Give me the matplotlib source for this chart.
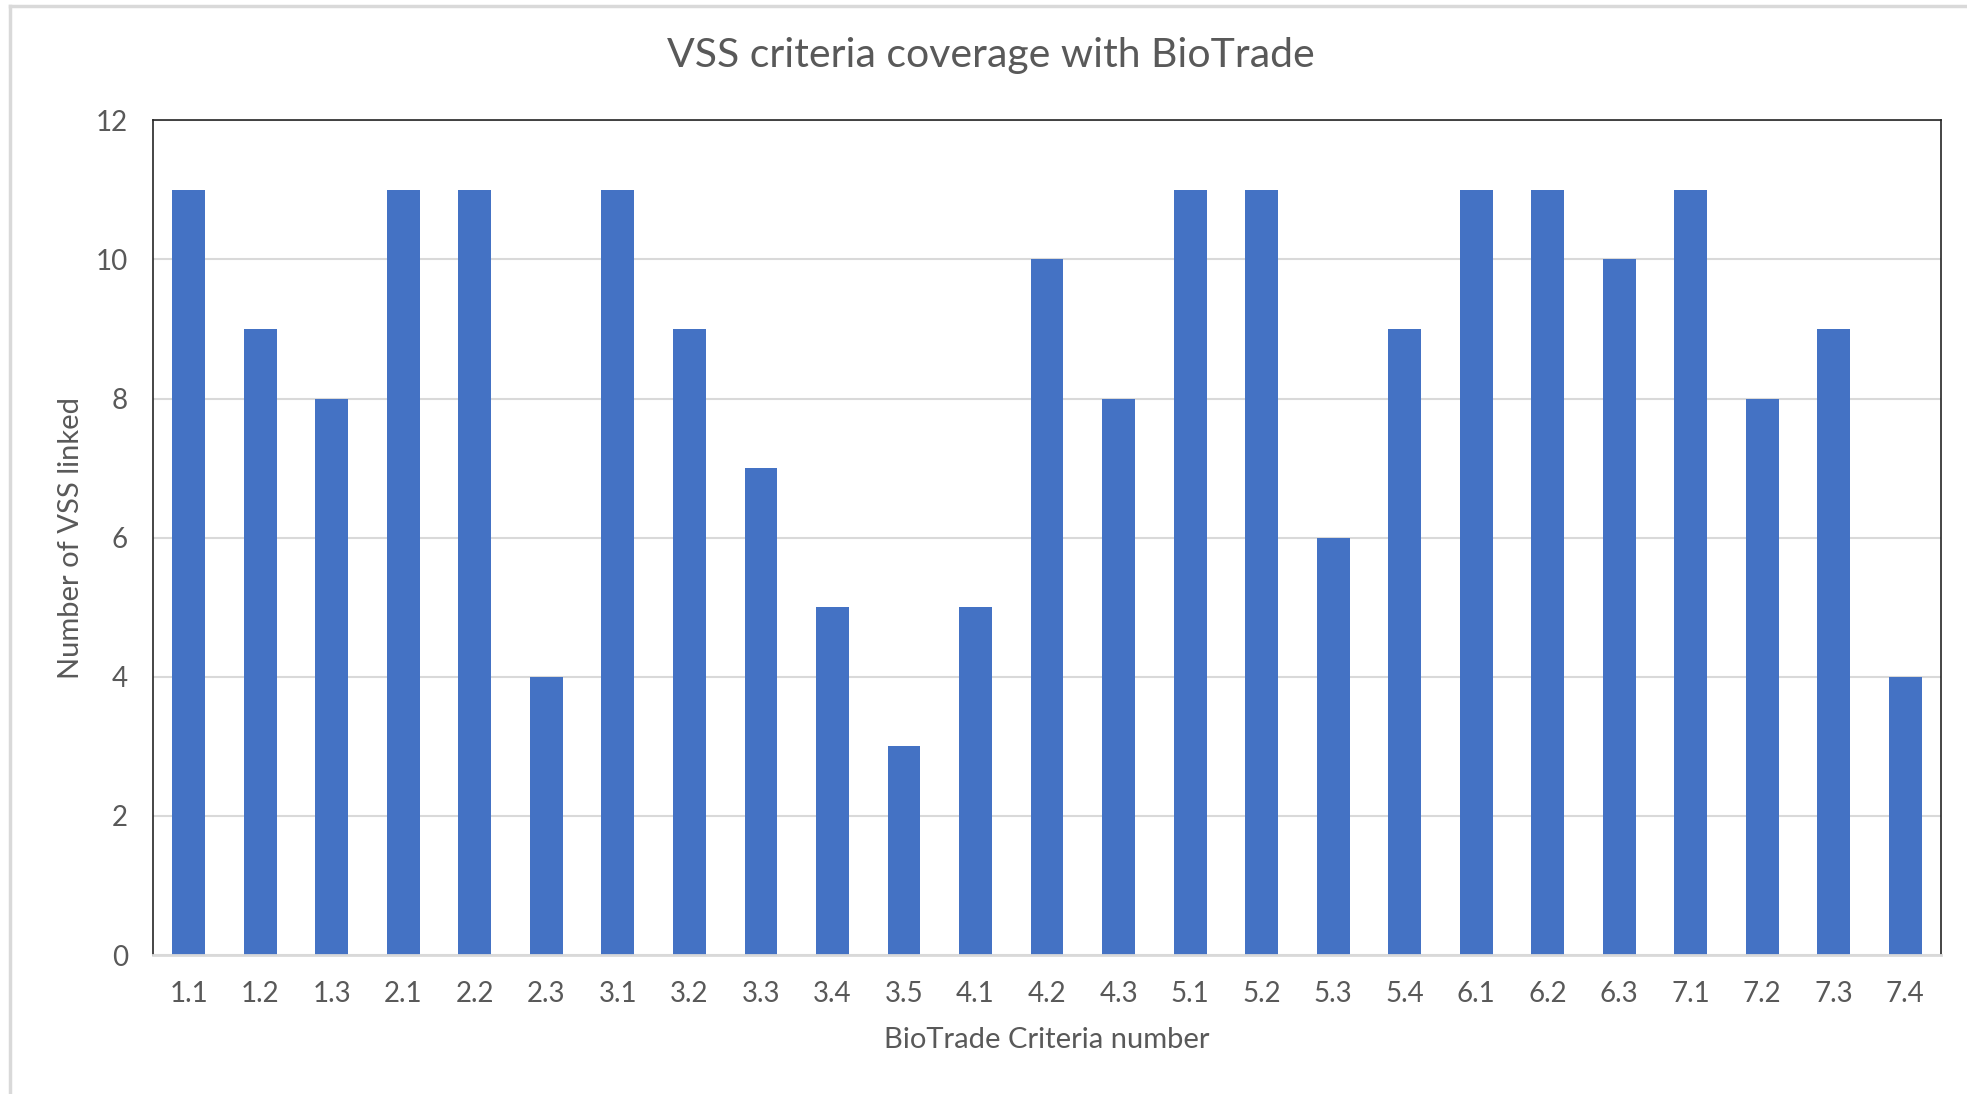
import matplotlib.pyplot as plt
from matplotlib.lines import Line2D

# BioTrade criteria and number of VSS linked to each
criteria = ['1.1', '1.2', '1.3', '2.1', '2.2', '2.3', '3.1', '3.2', '3.3', '3.4', '3.5',
            '4.1', '4.2', '4.3', '5.1', '5.2', '5.3', '5.4', '6.1', '6.2', '6.3',
            '7.1', '7.2', '7.3', '7.4']
vss_linked = [11, 9, 8, 11, 11, 4, 11, 9, 7, 5, 3, 5, 10, 8, 11, 11, 6, 9, 11, 11, 10, 11, 8, 9, 4]
yticks = [0, 2, 4, 6, 8, 10, 12]

plt.rcParams['font.family'] = ['Lato', 'DejaVu Sans']
grey = '#595959'

fig = plt.figure(figsize=(19.67, 10.94), dpi=100)
ax = fig.add_axes([0.0778, 0.127, 0.909, 0.763])

x = range(len(criteria))
ax.bar(x, vss_linked, width=0.46, color='#4472C4', zorder=3)

ax.set_xlim(-0.5, len(criteria) - 0.5)
ax.set_ylim(0, 12)
ax.set_xticks(list(x))
ax.set_xticklabels(criteria)
ax.set_yticks(yticks)
ax.tick_params(length=0, labelsize=20, labelcolor=grey)
ax.tick_params(axis='x', pad=19)
ax.tick_params(axis='y', pad=18)
ax.grid(axis='y', color='#d9d9d9', linewidth=1.5, zorder=0)

for side in ['left', 'top', 'right']:
    ax.spines[side].set_color('#262626')
    ax.spines[side].set_linewidth(1.2)
ax.spines['bottom'].set_color('#d9d9d9')
ax.spines['bottom'].set_linewidth(2)
ax.spines['bottom'].set_zorder(4)

ax.set_xlabel('BioTrade Criteria number', fontsize=21, color=grey, va='center')
ax.xaxis.set_label_coords(0.5, -0.102)
ax.set_ylabel('Number of VSS linked', fontsize=21, color=grey, va='center')
ax.yaxis.set_label_coords(-0.0456, 0.5)
fig.text(0.504, 0.949, 'VSS criteria coverage with BioTrade', fontsize=29.5,
         color=grey, ha='center', va='center')

# outer chart border
fig.add_artist(Line2D([10 / 1967, 1], [1 - 6 / 1094, 1 - 6 / 1094], color='#d9d9d9', linewidth=2.5))
fig.add_artist(Line2D([10 / 1967, 10 / 1967], [0, 1 - 6 / 1094], color='#d9d9d9', linewidth=2.5))

fig.savefig('out.png', dpi=100)
